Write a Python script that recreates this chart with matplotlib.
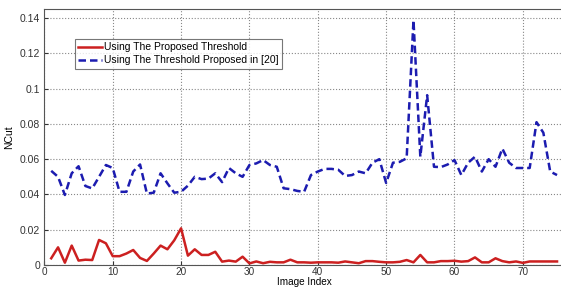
import numpy as np
import matplotlib
matplotlib.use('Agg')
import matplotlib.pyplot as plt

plt.rcParams['font.family'] = ['Liberation Sans', 'DejaVu Sans']

# indices de las imagenes
image_index = np.arange(1, 76)

# NCut con el umbral propuesto
ncut_proposed = [
    0.0038, 0.0100, 0.0013, 0.0110, 0.0025, 0.0030, 0.0028, 0.0142, 0.0123, 0.0050,
    0.0050, 0.0065, 0.0085, 0.0040, 0.0023, 0.0065, 0.0110, 0.0089, 0.0140, 0.0208,
    0.0053, 0.0089, 0.0057, 0.0057, 0.0075, 0.0019, 0.0025, 0.0019, 0.0047, 0.0009,
    0.0020, 0.0010, 0.0018, 0.0015, 0.0015, 0.0030, 0.0015, 0.0015, 0.0013, 0.0015,
    0.0015, 0.0015, 0.0013, 0.0020, 0.0015, 0.0010, 0.0022, 0.0022, 0.0018, 0.0015,
    0.0015, 0.0018, 0.0028, 0.0015, 0.0057, 0.0015, 0.0015, 0.0022, 0.0022, 0.0024,
    0.0019, 0.0022, 0.0043, 0.0015, 0.0015, 0.0038, 0.0022, 0.0015, 0.0020, 0.0012,
    0.0020, 0.0020, 0.0020, 0.0020, 0.0020,
]

# NCut con el umbral de [20]
ncut_ref20 = [
    0.0534, 0.0500, 0.0397, 0.0520, 0.0560, 0.0448, 0.0434, 0.0500, 0.0567, 0.0550,
    0.0415, 0.0415, 0.0530, 0.0570, 0.0405, 0.0410, 0.0520, 0.0463, 0.0410, 0.0415,
    0.0450, 0.0500, 0.0487, 0.0490, 0.0520, 0.0470, 0.0550, 0.0520, 0.0500, 0.0567,
    0.0576, 0.0595, 0.0567, 0.0557, 0.0435, 0.0430, 0.0420, 0.0415, 0.0510, 0.0530,
    0.0545, 0.0545, 0.0540, 0.0505, 0.0510, 0.0530, 0.0520, 0.0580, 0.0600, 0.0465,
    0.0580, 0.0585, 0.0605, 0.1388, 0.0614, 0.0963, 0.0557, 0.0555, 0.0570, 0.0595,
    0.0510, 0.0580, 0.0614, 0.0530, 0.0600, 0.0557, 0.0660, 0.0580, 0.0550, 0.0550,
    0.0550, 0.0810, 0.0750, 0.0530, 0.0510,
]

fig = plt.figure(figsize=(5.61, 2.88), dpi=100)
ax = fig.add_axes([0.0791, 0.0799, 0.926, 0.8878])

ax.plot(image_index, ncut_proposed, '-', color='#cc2020', lw=1.8,
        label='Using The Proposed Threshold')
ax.plot(image_index, ncut_ref20, '--', color='#1c1cb0', lw=1.8, dashes=(3, 1.6),
        label='Using The Threshold Proposed in [20]')

ax.set_xlim(0, 76)
ax.set_ylim(0, 0.145)
ax.set_xticks(range(0, 71, 10))
ax.set_yticks([0, 0.02, 0.04, 0.06, 0.08, 0.1, 0.12, 0.14])
ax.set_yticklabels(['0', '0.02', '0.04', '0.06', '0.08', '0.1', '0.12', '0.14'])
ax.tick_params(direction='in', labelsize=7.5, length=3, pad=3, colors='#333333')
ax.tick_params(axis='x', labelsize=7.2, pad=1.5)
ax.grid(True, linestyle=':', color='#888888', lw=0.8)
for s in ax.spines.values():
    s.set_color('#555555')
    s.set_linewidth(0.8)

ax.set_xlabel('Image Index', fontsize=7.2, labelpad=0.3)
ax.set_ylabel('NCut', fontsize=7.5, labelpad=4)

leg = ax.legend(loc='upper left', bbox_to_anchor=(0.058, 0.885), fontsize=7.5,
                frameon=True, fancybox=False, handlelength=2.3, handletextpad=0.2,
                borderpad=0.35, labelspacing=0.3, borderaxespad=0)
leg.get_frame().set_edgecolor('#555555')
leg.get_frame().set_linewidth(0.8)

fig.savefig('out.png', dpi=100)
